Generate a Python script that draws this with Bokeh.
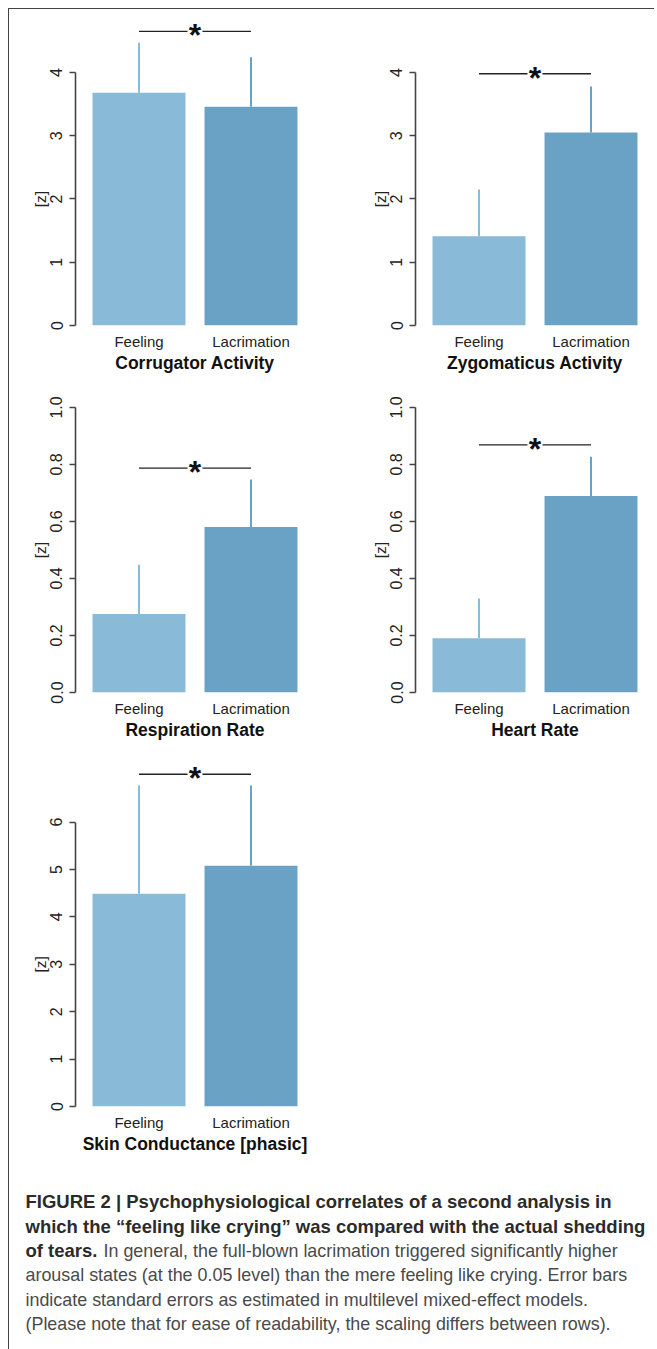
import math
from bokeh.plotting import figure
from bokeh.models import (Range1d, FixedTicker, NumeralTickFormatter,
                          ColumnDataSource, Title, Spacer)
from bokeh.layouts import column, row
from bokeh.embed import file_html
from bokeh.resources import INLINE
from bokeh.core.properties import value

# ---------------- data ----------------
conditions = ["Feeling", "Lacrimation"]
panel_titles = ["Corrugator Activity", "Zygomaticus Activity",
                "Respiration Rate", "Heart Rate", "Skin Conductance [phasic]"]

corrugator_mean = [3.68, 3.46]
corrugator_se = [0.79, 0.78]
zygomaticus_mean = [1.41, 3.05]
zygomaticus_se = [0.74, 0.73]
respiration_mean = [0.275, 0.581]
respiration_se = [0.173, 0.166]
heart_mean = [0.19, 0.689]
heart_se = [0.14, 0.138]
skin_mean = [4.49, 5.08]
skin_se = [2.28, 1.69]

significance_height = [4.65, 3.98, 0.787, 0.869, 7.01]
significance_mark = "*"

emg_ticks = [0, 1, 2, 3, 4]
rate_ticks = [0.0, 0.2, 0.4, 0.6, 0.8, 1.0]
skin_ticks = [0, 1, 2, 3, 4, 5, 6]

y_label = "[z]"

caption_lines = [
    ("FIGURE 2 | Psychophysiological correlates of a second analysis in", ""),
    ("which the \u201cfeeling like crying\u201d was compared with the actual shedding", ""),
    ("of tears.", "In general, the full-blown lacrimation triggered significantly higher"),
    ("", "arousal states (at the 0.05 level) than the mere feeling like crying. Error bars"),
    ("", "indicate standard errors as estimated in multilevel mixed-effect models."),
    ("", "(Please note that for ease of readability, the scaling differs between rows)."),
]

# ---------------- style ----------------
FONT = "Liberation Sans"
BAR_COLORS = ["#89BAD7", "#6AA2C6"]
AXIS_COLOR = "#444444"
BAR_WIDTH = 0.83
X_START = -0.567
YLABEL_SIZE = 15.5


def make_panel(title, mean, se, sig, ticks, fmt, y_end, frame_h, frame_w, x_end,
               mbt, mbb, mbl, mbr):
    p = figure(frame_width=frame_w, frame_height=frame_h,
               x_range=Range1d(X_START, x_end), y_range=Range1d(0, y_end),
               output_backend="svg", toolbar_location=None,
               min_border_top=mbt, min_border_bottom=mbb,
               min_border_left=mbl, min_border_right=mbr,
               outline_line_color=None, background_fill_color="white",
               border_fill_color="white")
    p.grid.visible = False
    xs = list(range(len(conditions)))
    src = ColumnDataSource(dict(
        x=xs, top=mean, err=[m + s for m, s in zip(mean, se)],
        color=BAR_COLORS, name=conditions))
    p.vbar(x="x", top="top", bottom=0, width=BAR_WIDTH, fill_color="color",
           line_color=None, source=src)
    p.segment(x0="x", y0="top", x1="x", y1="err", line_color="color",
              line_width=2, source=src)
    mid = (xs[0] + xs[1]) / 2
    gap = 0.067
    p.segment(x0=[xs[0], mid + gap], y0=[sig, sig], x1=[mid - gap, xs[1]],
              y1=[sig, sig], line_color="#222222", line_width=1.3)
    p.text(x=[mid], y=[sig], text=[significance_mark],
           text_font=value(FONT), text_font_size="32px",
           text_font_style="bold", text_align="center",
           text_baseline="alphabetic", y_offset=4, text_color="#111111")

    ya = p.yaxis[0]
    ya.ticker = FixedTicker(ticks=ticks)
    ya.bounds = (ticks[0], ticks[-1])
    ya.formatter = NumeralTickFormatter(format=fmt)
    ya.axis_line_color = AXIS_COLOR
    ya.axis_line_width = 1.6
    ya.major_tick_line_color = AXIS_COLOR
    ya.major_tick_line_width = 1.4
    ya.major_tick_out = 6
    ya.major_tick_in = 0
    ya.minor_tick_line_color = None
    ya.major_label_orientation = "vertical"
    ya.major_label_standoff = 7
    ya.major_label_text_font = FONT
    ya.major_label_text_font_size = "16px"
    ya.major_label_text_color = "#222222"

    # "[z]" label centred on the tick span (like R's axis label)
    px_per_unit = frame_h / y_end
    half_text = 0.53 * YLABEL_SIZE
    offset = (ticks[0] + ticks[-1]) / 2 * px_per_unit - half_text
    p.add_layout(Title(text=y_label, align="left", offset=offset,
                       vertical_align="bottom", standoff=-2,
                       text_font=FONT, text_font_size=f"{YLABEL_SIZE}px",
                       text_font_style="normal", text_color="#222222"), "left")

    xa = p.xaxis[0]
    xa.ticker = FixedTicker(ticks=xs)
    xa.major_label_overrides = {i: c for i, c in zip(xs, conditions)}
    xa.axis_line_color = None
    xa.major_tick_line_color = None
    xa.minor_tick_line_color = None
    xa.major_tick_out = 0
    xa.major_tick_in = 0
    xa.major_label_standoff = 7
    xa.major_label_text_font = FONT
    xa.major_label_text_font_size = "15px"
    xa.major_label_text_color = "#222222"
    xa.axis_label = title
    xa.axis_label_standoff = 0
    xa.axis_label_text_font = FONT
    xa.axis_label_text_font_size = "17.5px"
    xa.axis_label_text_font_style = "bold"
    xa.axis_label_text_color = "#111111"
    return p


p1 = make_panel(panel_titles[0], corrugator_mean, corrugator_se, significance_height[0],
                emg_ticks, "0", 4.885, 309, 239, 1.567, 7, 50, 66, 35)
p2 = make_panel(panel_titles[1], zygomaticus_mean, zygomaticus_se, significance_height[1],
                emg_ticks, "0", 4.885, 309, 239, 1.567, 7, 50, 66, 0)
p3 = make_panel(panel_titles[2], respiration_mean, respiration_se, significance_height[2],
                rate_ticks, "0.0", 1.042, 297, 239, 1.567, 20, 53, 66, 35)
p4 = make_panel(panel_titles[3], heart_mean, heart_se, significance_height[3],
                rate_ticks, "0.0", 1.042, 297, 239, 1.567, 20, 53, 66, 0)
p5 = make_panel(panel_titles[4], skin_mean, skin_se, significance_height[4],
                skin_ticks, "0", 7.30, 346, 239, 1.567, 15, 50, 66, 35)

# ---------------- caption ----------------
CAP_W, CAP_H = 640, 193
cap = figure(frame_width=CAP_W, frame_height=CAP_H,
             x_range=Range1d(0, CAP_W), y_range=Range1d(CAP_H, 0),
             output_backend="svg", toolbar_location=None,
             x_axis_location=None, y_axis_location=None,
             min_border=0, outline_line_color=None)
cap.grid.visible = False
line_top = 45
line_step = 24.5
bold_x, bold_y, bold_t = [], [], []
reg_x, reg_y, reg_t = [], [], []
for i, (b, r) in enumerate(caption_lines):
    yy = line_top + i * line_step
    if b:
        bold_x.append(16); bold_y.append(yy); bold_t.append(b)
    if r:
        reg_x.append(94 if b else 16); reg_y.append(yy); reg_t.append(r)
cap.text(x=bold_x, y=bold_y, text=bold_t, text_font=value(FONT),
         text_font_size="18.5px", text_font_style="bold",
         text_baseline="middle", text_color="#2b2b2b")
cap.text(x=reg_x, y=reg_y, text=reg_t, text_font=value(FONT),
         text_font_size="17.9px", text_baseline="middle", text_color="#4a4a4a")

framed = column(row(p1, p2), row(p3, p4), p5,
                styles={"border-left": "1px solid #444", "border-top": "1px solid #444"})
top_root = row(Spacer(width=8), column(Spacer(height=8), framed))
cap_root = row(Spacer(width=8),
               column(cap, styles={"border-left": "1px solid #444"}))

open("out.html", "w").write(file_html([top_root, cap_root], INLINE))
